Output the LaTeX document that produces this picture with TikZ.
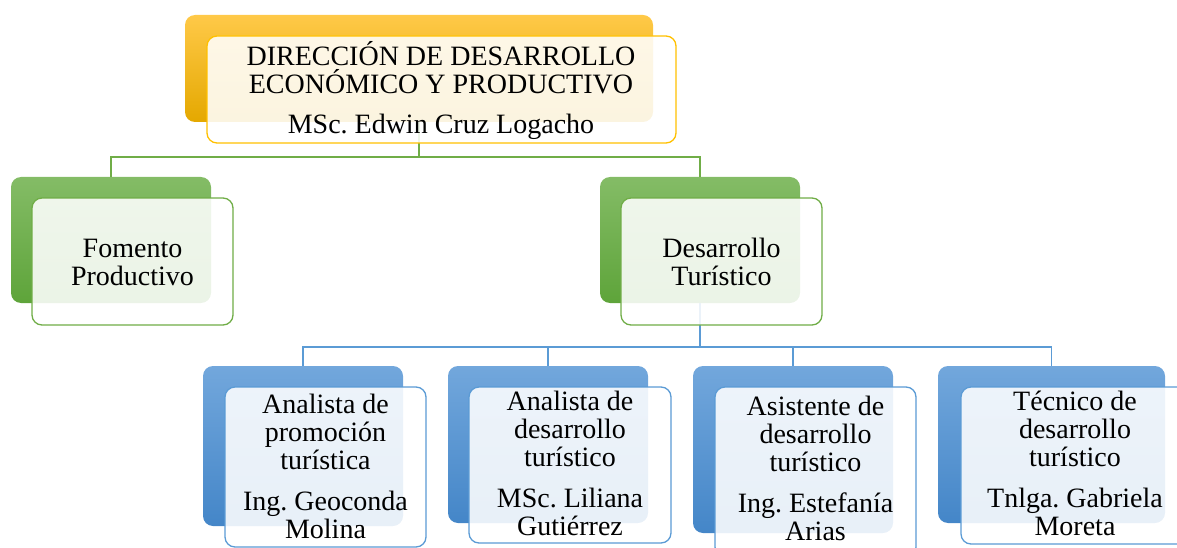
\documentclass[tikz,border=0pt]{standalone}
\usepackage{fontspec}
\setmainfont{Liberation Serif}
\frenchspacing
\definecolor{goldtop}{RGB}{255,201,72}
\definecolor{goldbot}{RGB}{228,168,0}
\definecolor{goldline}{RGB}{255,192,0}
\definecolor{greentop}{RGB}{132,188,102}
\definecolor{greenbot}{RGB}{94,164,58}
\definecolor{greenline}{RGB}{112,173,71}
\definecolor{bluetop}{RGB}{114,167,220}
\definecolor{bluebot}{RGB}{68,134,200}
\definecolor{blueline}{RGB}{91,155,213}
\newcommand{\boxstrut}{\rule{0pt}{28pt}}
\tikzset{
  backbox/.style={rectangle, rounded corners=10pt, inner sep=0pt},
  frontbox/.style={rectangle, rounded corners=10pt, inner sep=0pt, fill=white, fill opacity=0.88, line width=1.3pt},
  boxtext/.style={anchor=north, align=center, inner sep=0pt, font=\fontsize{28}{28}\selectfont\frenchspacing},
  linkline/.style={line width=1.2pt},
}
\begin{document}
\begin{tikzpicture}[x=1pt, y=-1pt]
  \useasboundingbox (0,0) rectangle (1177,548);

  % Back boxes
  \node [backbox, top color=goldtop, bottom color=goldbot, minimum width=468pt, minimum height=107pt] (dirB) at (419,68.5) {};
  \node [backbox, top color=greentop, bottom color=greenbot, minimum width=200pt, minimum height=126pt] (fomB) at (111,240) {};
  \node [backbox, top color=greentop, bottom color=greenbot, minimum width=200pt, minimum height=126pt] (turB) at (700,240) {};
  \node [backbox, top color=bluetop, bottom color=bluebot, minimum width=200pt, minimum height=160pt] (anpB) at (303,446) {};
  \node [backbox, top color=bluetop, bottom color=bluebot, minimum width=200pt, minimum height=157pt] (andB) at (548,444.5) {};
  \node [backbox, top color=bluetop, bottom color=bluebot, minimum width=200pt, minimum height=167pt] (asiB) at (793,449.5) {};
  \node [backbox, top color=bluetop, bottom color=bluebot, minimum width=227pt, minimum height=157pt] (tecB) at (1051.5,444.5) {};

  % Connectors
  \coordinate (busG) at (419,157);
  \coordinate (busB) at (700,347);
  \draw [linkline, greenline] (dirB.south) -- (dirB.south |- busG) -| (fomB.north);
  \draw [linkline, greenline] (dirB.south |- busG) -| (turB.north);
  \draw [linkline, blueline] (turB.south) -- (turB.south |- busB) -| (anpB.north);
  \draw [linkline, blueline] (turB.south |- busB) -| (andB.north);
  \draw [linkline, blueline] (turB.south |- busB) -| (asiB.north);
  \draw [linkline, blueline] (turB.south |- busB) -| (tecB.north);

  % Front boxes
  \node [frontbox, draw=goldline, minimum width=469pt, minimum height=107pt] (dir) at (441.5,89.5) {};
  \node [frontbox, draw=greenline, minimum width=201pt, minimum height=127pt] (fom) at (132.5,261.5) {};
  \node [frontbox, draw=greenline, minimum width=201pt, minimum height=127pt] (tur) at (721.5,261.5) {};
  \node [frontbox, draw=blueline, minimum width=201pt, minimum height=160pt] (anp) at (325.5,467) {};
  \node [frontbox, draw=blueline, minimum width=202pt, minimum height=156pt] (and) at (570,465) {};
  \node [frontbox, draw=blueline, minimum width=201pt, minimum height=170pt] (asi) at (815.5,472) {};
  \node [frontbox, draw=blueline, minimum width=228pt, minimum height=157pt] (tec) at (1075,465.5) {};

  % Texts
  \node [boxtext] (dirT) at (441,37) {\boxstrut DIRECCIÓN DE DESARROLLO\\ECONÓMICO Y PRODUCTIVO\\[12pt]MSc. Edwin Cruz Logacho};
  \node [boxtext] (fomT) at (132.5,229) {\boxstrut Fomento\\Productivo};
  \node [boxtext] (turT) at (721.5,229) {\boxstrut Desarrollo\\Turístico};
  \node [boxtext] (anpT) at (325.5,385) {\boxstrut Analista de\\promoción\\turística\\[13pt]Ing. Geoconda\\Molina};
  \node [boxtext] (andT) at (570,382) {\boxstrut Analista de\\desarrollo\\turístico\\[13pt]MSc. Liliana\\Gutiérrez};
  \node [boxtext] (asiT) at (815.5,387) {\boxstrut Asistente de\\desarrollo\\turístico\\[13pt]Ing. Estefanía\\Arias};
  \node [boxtext] (tecT) at (1075,382) {\boxstrut Técnico de\\desarrollo\\turístico\\[13pt]Tnlga. Gabriela\\Moreta};
\end{tikzpicture}
\end{document}
